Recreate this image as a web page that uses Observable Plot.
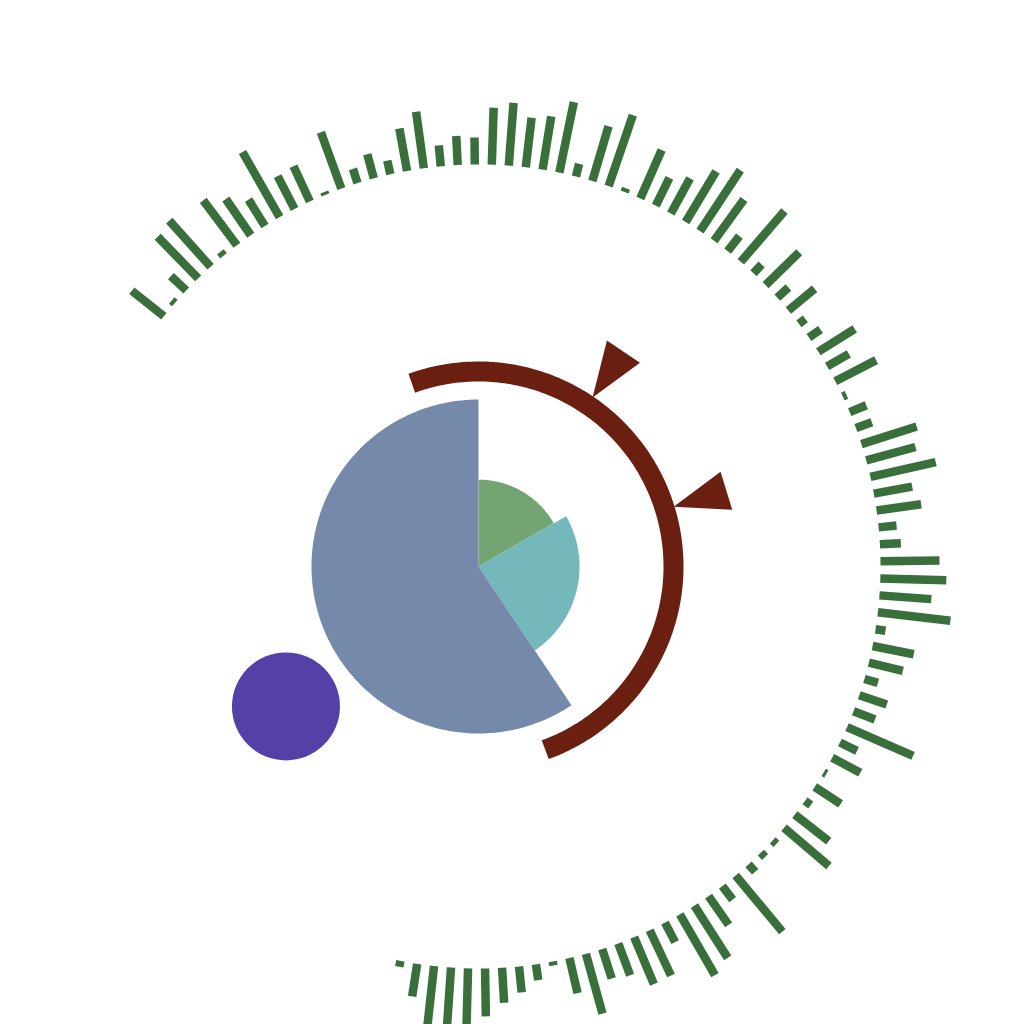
<!DOCTYPE html>
<html>
<head>
<meta charset="utf-8">
<script src="https://cdn.jsdelivr.net/npm/d3@7"></script>
<script src="https://cdn.jsdelivr.net/npm/@observablehq/plot@0.6"></script>
<style>
  body { margin: 0; background: #fff; }
</style>
</head>
<body>
<div id="chart"></div>
<script>
// outer ring: one bar per item, going clockwise
const barValues = [
  41, 4, 21, 58, 62, 5, 56, 44, 31, 75,
  37, 39, 3, 60, 15, 25, 14, 43, 57, 21,
  29, 27, 57, 63, 50, 54, 72, 13, 57, 75,
  4, 53, 31, 40, 59, 73, 51, 19, 67, 12,
  47, 15, 34, 8, 14, 43, 25, 46, 4, 18,
  17, 58, 51, 67, 39, 45, 18, 21, 59, 66,
  52, 73, 10, 42, 35, 14, 29, 23, 72, 19,
  32, 3, 31, 7, 43, 59, 5, 6, 10, 73,
  17, 35, 62, 70, 22, 50, 51, 34, 31, 62,
  36, 4, 16, 26, 35, 48, 62, 66, 60, 33, 6
];
const barIds = barValues.map((d, i) => `item ${i + 1}`);

// inner pie: share of the circle, and relative depth of each slice
const pieNames = ["A", "B", "C"];
const pieShares = [16.7, 23.9, 59.4];
const pieDepth = [0.52, 0.605, 1.0];
const pieColors = ["#73a474", "#74b8bc", "#7589ab"];

// half ring (degrees, clockwise from 12 o'clock) and its two markers
const ringSpan = [-20, 160];
const ringMarks = [34, 73];

// lone point
const extraPoint = {angle: 234, dist: 238};

const rad = (deg) => deg * Math.PI / 180;
const polar = (deg, r) => ({x: r * Math.sin(rad(deg)), y: r * Math.cos(rad(deg))});
const arcPts = (a0, a1, r) => {
  const n = Math.max(2, Math.ceil(Math.abs(a1 - a0)));
  return d3.range(n + 1).map((k) => polar(a0 + (a1 - a0) * k / n, r));
};

// bars
const barAngle = d3.scalePoint(barIds, [-51.5, 191.2]);
const barInner = 402;
const bars = barIds.map((id, i) => {
  const a = barAngle(id);
  const p0 = polar(a, barInner), p1 = polar(a, barInner + barValues[i]);
  return {id, x1: p0.x, y1: p0.y, x2: p1.x, y2: p1.y};
});

// pie slices
const pieR = d3.scaleLinear([0, 1], [0, 167]);
const arcs = d3.pie().sort(null).startAngle(0).endAngle(2 * Math.PI)(pieShares);
const wedges = arcs.flatMap((a, i) => {
  const r = pieR(pieDepth[i]);
  const pts = [{x: 0, y: 0}, ...arcPts(a.startAngle * 180 / Math.PI, a.endAngle * 180 / Math.PI, r), {x: 0, y: 0}];
  return pts.map((p) => ({...p, name: pieNames[i], color: pieColors[i]}));
});

// ring and markers
const ringR = 195;
const ring = arcPts(ringSpan[0], ringSpan[1], ringR);
const markers = ringMarks.flatMap((a) => [
  {...polar(a, ringR + 9), m: a},
  {...polar(a - 4.4, 260), m: a},
  {...polar(a + 4.4, 260), m: a},
  {...polar(a, ringR + 9), m: a}
]);

const dotPos = polar(extraPoint.angle, extraPoint.dist);

const chart = Plot.plot({
  width: 1024,
  height: 1024,
  margin: 0,
  x: {domain: [-478, 546], axis: null},
  y: {domain: [-458, 566], axis: null},
  color: {type: "identity"},
  marks: [
    Plot.link(bars, {x1: "x1", y1: "y1", x2: "x2", y2: "y2", stroke: "#386f3a", strokeWidth: 8.5, strokeLinecap: "butt"}),
    Plot.line(wedges, {x: "x", y: "y", z: "name", fill: "color", stroke: "none"}),
    Plot.line(ring, {x: "x", y: "y", stroke: "#6b1f11", strokeWidth: 20, strokeLinecap: "butt"}),
    Plot.line(markers, {x: "x", y: "y", z: "m", fill: "#6b1f11", stroke: "none"}),
    Plot.dot([dotPos], {x: "x", y: "y", r: 54, fill: "#5540a8", stroke: "none"})
  ]
});

document.getElementById("chart").append(chart);
</script>
</body>
</html>
